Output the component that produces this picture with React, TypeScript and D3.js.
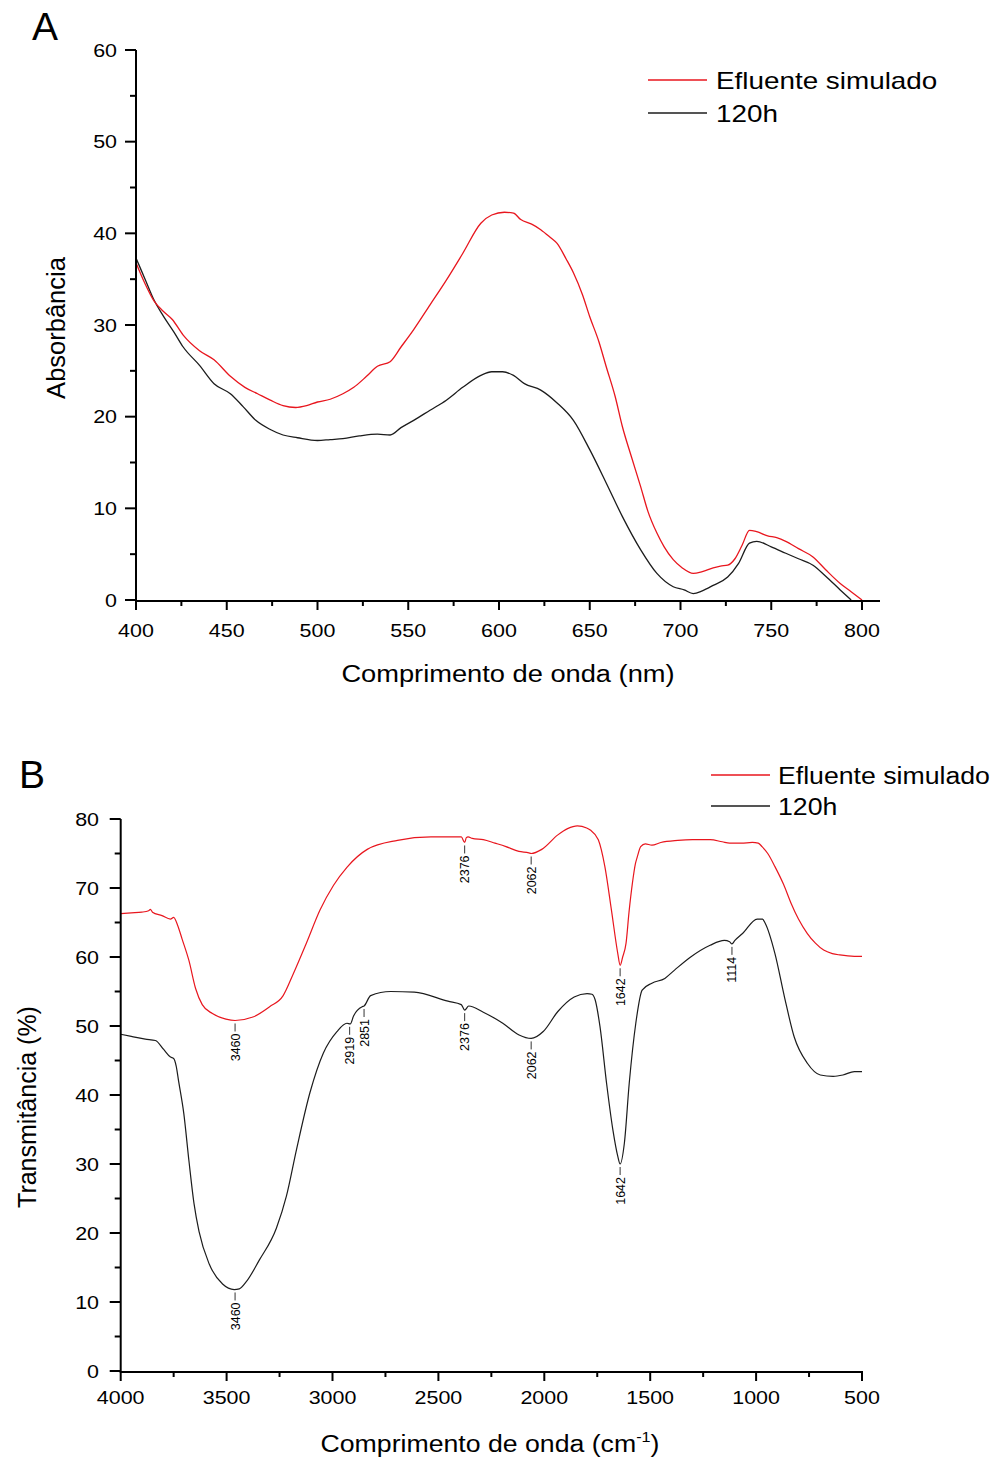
import React from "react";
import * as d3 from "d3";

// ---- Panel A: UV-Vis absorbance ----
const uvNmEfluente = [400, 405, 410, 415, 420, 426, 435, 443, 452, 460, 467, 474, 481, 488, 494, 500, 507, 514, 520, 527, 533, 540, 546, 553, 562, 571, 580, 590, 596, 603, 608, 612, 618, 623, 628, 632, 637, 641, 646, 650, 655, 659, 664, 668, 673, 678, 682, 687, 691, 696, 701, 707, 712, 718, 722, 726, 730, 734, 738, 742, 748, 753, 758, 765, 773, 780, 788, 794, 800];
const uvAbsEfluente = [36.8, 34.5, 32.6, 31.5, 30.6, 28.9, 27.2, 26.2, 24.4, 23.2, 22.5, 21.8, 21.2, 21.0, 21.2, 21.6, 21.9, 22.5, 23.2, 24.4, 25.5, 26.0, 27.6, 29.5, 32.2, 34.9, 37.8, 41.1, 42.0, 42.3, 42.2, 41.5, 41.0, 40.4, 39.6, 38.9, 37.2, 35.7, 33.3, 30.9, 28.2, 25.5, 22.2, 18.9, 15.6, 12.4, 9.7, 7.3, 5.8, 4.4, 3.5, 2.9, 3.1, 3.5, 3.7, 3.8, 4.5, 6.0, 7.6, 7.45, 7.0, 6.8, 6.4, 5.6, 4.7, 3.3, 1.8, 0.9, 0];
const uvNm120h = [400, 405, 410, 415, 421, 426, 435, 443, 452, 459, 466, 474, 481, 489, 500, 507, 514, 523, 533, 540, 546, 553, 562, 571, 580, 590, 596, 602, 608, 614, 623, 632, 641, 650, 659, 668, 678, 687, 696, 702, 707, 712, 718, 726, 732, 738, 742, 750, 758, 765, 773, 780, 788, 794];
const uvAbs120h = [37.3, 35.0, 32.7, 31.0, 29.2, 27.6, 25.6, 23.6, 22.5, 21.1, 19.6, 18.6, 18.0, 17.7, 17.4, 17.5, 17.6, 17.9, 18.1, 18.0, 18.8, 19.6, 20.7, 21.8, 23.2, 24.5, 24.9, 24.9, 24.5, 23.6, 22.9, 21.5, 19.6, 16.4, 12.8, 9.1, 5.5, 2.9, 1.45, 1.1, 0.7, 1.0, 1.6, 2.5, 4.0, 6.2, 6.4, 5.8, 5.1, 4.5, 3.8, 2.6, 1.1, 0];
const uvXTicks = [400, 450, 500, 550, 600, 650, 700, 750, 800];
const uvYTicks = [0, 10, 20, 30, 40, 50, 60];

// ---- Panel B: FTIR transmittance ----
const irWnEfluente = [4000, 3950, 3900, 3868, 3860, 3850, 3805, 3765, 3750, 3730, 3710, 3678, 3646, 3615, 3567, 3503, 3460, 3376, 3297, 3233, 3186, 3122, 3059, 2995, 2932, 2836, 2693, 2535, 2392, 2376, 2368, 2360, 2340, 2288, 2233, 2181, 2120, 2073, 2062, 2012, 1936, 1890, 1844, 1800, 1783, 1745, 1714, 1683, 1653, 1642, 1630, 1614, 1600, 1584, 1570, 1561, 1545, 1523, 1492, 1450, 1370, 1300, 1217, 1160, 1125, 1070, 1018, 990, 972, 945, 911, 870, 835, 800, 758, 720, 681, 640, 605, 536, 500];
const irTEfluente = [66.3, 66.4, 66.5, 66.7, 66.9, 66.5, 66.0, 65.5, 65.75, 64.5, 62.6, 59.5, 55.4, 53.1, 51.8, 51.0, 50.8, 51.3, 52.8, 54.4, 57.5, 62.1, 66.8, 70.4, 73.0, 75.6, 76.9, 77.4, 77.4, 76.6, 77.3, 77.4, 77.2, 77.0, 76.5, 76.0, 75.3, 75.1, 75.0, 75.6, 77.7, 78.6, 79.0, 78.7, 78.4, 77.0, 73.1, 66.8, 60.5, 58.8, 60.0, 62.0, 66.5, 70.7, 73.5, 74.5, 76.0, 76.4, 76.2, 76.6, 76.9, 77.0, 77.0, 76.7, 76.5, 76.5, 76.6, 76.5, 76.0, 75.0, 73.1, 70.5, 67.8, 65.5, 63.4, 62.0, 61.0, 60.5, 60.3, 60.1, 60.1];
const irWn120h = [4000, 3950, 3884, 3836, 3797, 3765, 3750, 3738, 3726, 3702, 3678, 3654, 3630, 3582, 3519, 3464, 3440, 3408, 3345, 3265, 3218, 3170, 3106, 3043, 2979, 2932, 2916, 2900, 2860, 2851, 2820, 2725, 2614, 2455, 2392, 2376, 2357, 2288, 2196, 2119, 2062, 2005, 1936, 1859, 1798, 1775, 1760, 1737, 1706, 1676, 1653, 1642, 1622, 1599, 1568, 1538, 1492, 1431, 1385, 1309, 1217, 1150, 1125, 1114, 1100, 1064, 995, 970, 957, 911, 866, 820, 758, 697, 636, 590, 536, 500];
const irT120h = [48.8, 48.5, 48.1, 47.9, 46.6, 45.5, 45.3, 44.2, 41.9, 37.3, 30.5, 24.3, 20.2, 15.5, 12.6, 11.8, 11.9, 12.9, 16.1, 20.7, 25.3, 32.1, 40.4, 46.1, 49.2, 50.4, 50.3, 51.5, 52.8, 52.9, 54.4, 55.0, 54.9, 53.6, 53.1, 52.3, 52.9, 52.0, 50.4, 48.7, 48.2, 49.2, 52.1, 54.2, 54.7, 54.6, 53.8, 49.9, 41.7, 34.9, 31.1, 30.0, 33.0, 41.7, 50.4, 55.2, 56.2, 56.9, 58.1, 60.0, 61.7, 62.4, 62.2, 61.9, 62.4, 63.4, 65.5, 65.5, 64.9, 60.5, 54.2, 48.4, 44.6, 42.9, 42.7, 42.9, 43.4, 43.4];
const irXTicks = [4000, 3500, 3000, 2500, 2000, 1500, 1000, 500];
const irYTicks = [0, 10, 20, 30, 40, 50, 60, 70, 80];
const peaksEfluente = [3460, 2376, 2062, 1642];
const peaks120h = [3460, 2919, 2851, 2376, 2062, 1642, 1114];

const legendLabels = ["Efluente simulado", "120h"];
const RED = "#e8161e";
const BLACK = "#1c1c1c";
const FONT = "Arial, 'Liberation Sans', sans-serif";
const SX = 1.16;

const zip = (xs: number[], ys: number[]) => xs.map((x, i) => [x, ys[i]] as [number, number]);
const mids = (t: number[]) => t.slice(1).map((v, i) => (v + t[i]) / 2);

function valueAt(xs: number[], ys: number[], x: number) {
  for (let i = 0; i < xs.length - 1; i++) {
    const a = xs[i], b = xs[i + 1];
    if ((x - a) * (x - b) <= 0) {
      const t = a === b ? 0 : (x - a) / (b - a);
      return ys[i] + t * (ys[i + 1] - ys[i]);
    }
  }
  return ys[ys.length - 1];
}

function Txt({ x, y, size, anchor = "start", sx = SX, rot = false, children }: any) {
  return (
    <text
      transform={`translate(${x},${y}) scale(${sx},1)${rot ? " rotate(-90)" : ""}`}
      fontSize={size}
      fontFamily={FONT}
      textAnchor={anchor}
      fill="#000"
    >
      {children}
    </text>
  );
}

function PanelA() {
  const x = d3.scaleLinear().domain([400, 800]).range([136, 862]);
  const y = d3.scaleLinear().domain([0, 60]).range([600, 50]);
  const line = d3.line<[number, number]>().x(d => x(d[0])).y(d => y(d[1])).curve(d3.curveMonotoneX);
  const x0 = x(400), y0 = y(0);
  return (
    <g>
      <Txt x={32} y={40} size={39} sx={1}>A</Txt>
      <path d={line(zip(uvNm120h, uvAbs120h)) || ""} fill="none" stroke={BLACK} strokeWidth={1.3} />
      <path d={line(zip(uvNmEfluente, uvAbsEfluente)) || ""} fill="none" stroke={RED} strokeWidth={1.3} />
      <line x1={x0} x2={x0} y1={y(60)} y2={y0 + 1} stroke="#000" strokeWidth={2} />
      <line x1={x0 - 1} x2={880} y1={y0 + 1} y2={y0 + 1} stroke="#000" strokeWidth={2} />
      {uvXTicks.map(t => (
        <g key={"xa" + t}>
          <line x1={x(t)} x2={x(t)} y1={y0 + 1} y2={y0 + 10} stroke="#000" strokeWidth={2} />
          <Txt x={x(t)} y={637} size={18.5} anchor="middle">{t}</Txt>
        </g>
      ))}
      {mids(uvXTicks).map(t => (
        <line key={"xm" + t} x1={x(t)} x2={x(t)} y1={y0 + 1} y2={y0 + 6} stroke="#000" strokeWidth={2} />
      ))}
      {uvYTicks.map(t => (
        <g key={"ya" + t}>
          <line x1={x0 - 11} x2={x0} y1={y(t)} y2={y(t)} stroke="#000" strokeWidth={2} />
          <Txt x={117} y={y(t) + 6.6} size={18.5} anchor="end">{t}</Txt>
        </g>
      ))}
      {mids(uvYTicks).map(t => (
        <line key={"ym" + t} x1={x0 - 6} x2={x0} y1={y(t)} y2={y(t)} stroke="#000" strokeWidth={2} />
      ))}
      <Txt x={508} y={682} size={23.5} anchor="middle">Comprimento de onda (nm)</Txt>
      <Txt x={65} y={328} size={25.5} anchor="middle" sx={1} rot>Absorbância</Txt>
      {legendLabels.map((l, i) => (
        <g key={l}>
          <line x1={648} x2={707} y1={80 + i * 33} y2={80 + i * 33} stroke={i === 0 ? RED : BLACK} strokeWidth={1.3} />
          <Txt x={716} y={88.5 + i * 33} size={24}>{l}</Txt>
        </g>
      ))}
    </g>
  );
}

function PanelB() {
  const x = d3.scaleLinear().domain([4000, 500]).range([120.7, 862]);
  const y = d3.scaleLinear().domain([0, 80]).range([1371, 819]);
  const line = d3.line<[number, number]>().x(d => x(d[0])).y(d => y(d[1])).curve(d3.curveMonotoneX);
  const x0 = x(4000), y0 = y(0);
  const peakLabel = (wn: number, v: number, key: string) => {
    const px = x(wn), py = y(v);
    return (
      <g key={key}>
        <line x1={px} x2={px} y1={py + 3} y2={py + 11} stroke="#333" strokeWidth={1} />
        <Txt x={px + 4.5} y={py + 13} size={12.5} anchor="end" sx={1} rot>{wn}</Txt>
      </g>
    );
  };
  return (
    <g>
      <Txt x={19} y={788} size={39} sx={1}>B</Txt>
      <path d={line(zip(irWn120h, irT120h)) || ""} fill="none" stroke={BLACK} strokeWidth={1.2} />
      <path d={line(zip(irWnEfluente, irTEfluente)) || ""} fill="none" stroke={RED} strokeWidth={1.2} />
      {peaksEfluente.map(p => peakLabel(p, valueAt(irWnEfluente, irTEfluente, p), "pe" + p))}
      {peaks120h.map(p => peakLabel(p, valueAt(irWn120h, irT120h, p), "ph" + p))}
      <line x1={x0} x2={x0} y1={y(80)} y2={y0 + 1} stroke="#000" strokeWidth={2} />
      <line x1={x0 - 1} x2={x(500) + 1} y1={y0 + 1} y2={y0 + 1} stroke="#000" strokeWidth={2} />
      {irXTicks.map(t => (
        <g key={"xb" + t}>
          <line x1={x(t)} x2={x(t)} y1={y0 + 1} y2={y0 + 10} stroke="#000" strokeWidth={2} />
          <Txt x={x(t)} y={1404} size={18.5} anchor="middle">{t}</Txt>
        </g>
      ))}
      {mids(irXTicks).map(t => (
        <line key={"xbm" + t} x1={x(t)} x2={x(t)} y1={y0 + 1} y2={y0 + 6} stroke="#000" strokeWidth={2} />
      ))}
      {irYTicks.map(t => (
        <g key={"yb" + t}>
          <line x1={x0 - 11} x2={x0} y1={y(t)} y2={y(t)} stroke="#000" strokeWidth={2} />
          <Txt x={99} y={y(t) + 6.6} size={18.5} anchor="end">{t}</Txt>
        </g>
      ))}
      {mids(irYTicks).map(t => (
        <line key={"ybm" + t} x1={x0 - 6} x2={x0} y1={y(t)} y2={y(t)} stroke="#000" strokeWidth={2} />
      ))}
      <Txt x={490} y={1452} size={23} anchor="middle">
        Comprimento de onda (cm<tspan fontSize={14} dy={-10}>-1</tspan><tspan dy={10}>)</tspan>
      </Txt>
      <Txt x={36} y={1107} size={25} anchor="middle" sx={1} rot>Transmitância (%)</Txt>
      {legendLabels.map((l, i) => (
        <g key={l}>
          <line x1={711} x2={770} y1={775 + i * 31} y2={775 + i * 31} stroke={i === 0 ? RED : BLACK} strokeWidth={1.3} />
          <Txt x={778} y={783.5 + i * 31} size={23}>{l}</Txt>
        </g>
      ))}
    </g>
  );
}

export default function App() {
  return (
    <svg
      width={992}
      height={1461}
      viewBox="0 0 992 1461"
      style={{ position: "absolute", left: 0, top: 0, background: "#fff" }}
    >
      <rect width={992} height={1461} fill="#fff" />
      <PanelA />
      <PanelB />
    </svg>
  );
}
